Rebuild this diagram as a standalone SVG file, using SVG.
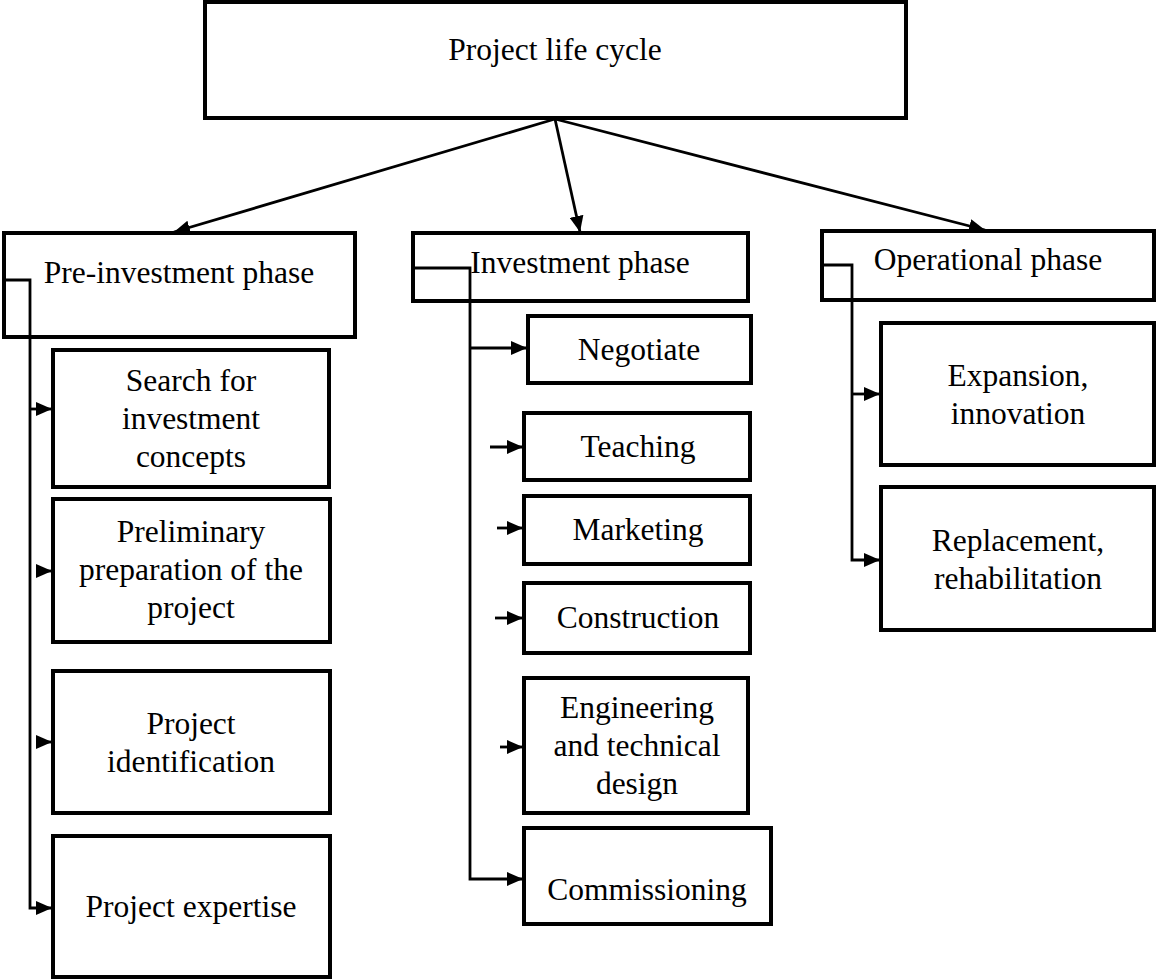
<svg xmlns="http://www.w3.org/2000/svg" width="1156" height="980" viewBox="0 0 1156 980">
  <style>
    .box { fill: #fff; stroke: #000; stroke-width: 4; }
    .lbl { font-family: "Liberation Serif", "Times New Roman", serif; font-size: 31.5px; fill: #000; text-anchor: middle; }
    .conn { fill: none; stroke: #000; stroke-width: 2.8; }
    .arr { marker-end: url(#head); }
  </style>
  <defs>
    <marker id="head" markerUnits="userSpaceOnUse" markerWidth="18" markerHeight="14" refX="16" refY="7" orient="auto">
      <path d="M0,0 L16,7 L0,14 z" fill="#000"/>
    </marker>
  </defs>

  <rect width="1156" height="980" fill="#fff"/>

  <!-- root -->
  <g id="life-cycle">
    <rect class="box" x="205" y="2" width="701" height="116"/>
    <text class="lbl" x="555" y="60">Project life cycle</text>
  </g>

  <!-- phases -->
  <g id="pre-investment">
    <rect class="box" x="4" y="233" width="351" height="104"/>
    <text class="lbl" x="179" y="283">Pre-investment phase</text>
  </g>
  <g id="investment">
    <rect class="box" x="413" y="233" width="335" height="68"/>
    <text class="lbl" x="580" y="273">Investment phase</text>
  </g>
  <g id="operational">
    <rect class="box" x="822" y="231" width="332" height="69"/>
    <text class="lbl" x="988" y="270">Operational phase</text>
  </g>

  <!-- pre-investment steps -->
  <g id="search">
    <rect class="box" x="53" y="350" width="276" height="137"/>
    <text class="lbl" x="191" y="391">Search for</text>
    <text class="lbl" x="191" y="429">investment</text>
    <text class="lbl" x="191" y="467">concepts</text>
  </g>
  <g id="preliminary">
    <rect class="box" x="53" y="499" width="277" height="143"/>
    <text class="lbl" x="191" y="542">Preliminary</text>
    <text class="lbl" x="191" y="580">preparation of the</text>
    <text class="lbl" x="191" y="618">project</text>
  </g>
  <g id="identification">
    <rect class="box" x="53" y="671" width="277" height="142"/>
    <text class="lbl" x="191" y="734">Project</text>
    <text class="lbl" x="191" y="772">identification</text>
  </g>
  <g id="expertise">
    <rect class="box" x="53" y="836" width="277" height="141"/>
    <text class="lbl" x="191" y="917">Project expertise</text>
  </g>

  <!-- investment steps -->
  <g id="negotiate">
    <rect class="box" x="528" y="316" width="223" height="67"/>
    <text class="lbl" x="639" y="360">Negotiate</text>
  </g>
  <g id="teaching">
    <rect class="box" x="524" y="413" width="226" height="67"/>
    <text class="lbl" x="638" y="457">Teaching</text>
  </g>
  <g id="marketing">
    <rect class="box" x="524" y="496" width="226" height="68"/>
    <text class="lbl" x="638" y="540">Marketing</text>
  </g>
  <g id="construction">
    <rect class="box" x="524" y="583" width="226" height="70"/>
    <text class="lbl" x="638" y="628">Construction</text>
  </g>
  <g id="engineering">
    <rect class="box" x="524" y="678" width="224" height="135"/>
    <text class="lbl" x="637" y="718">Engineering</text>
    <text class="lbl" x="637" y="756">and technical</text>
    <text class="lbl" x="637" y="794">design</text>
  </g>
  <g id="commissioning">
    <rect class="box" x="524" y="828" width="247" height="96"/>
    <text class="lbl" x="647" y="900">Commissioning</text>
  </g>

  <!-- operational steps -->
  <g id="expansion">
    <rect class="box" x="881" y="323" width="273" height="142"/>
    <text class="lbl" x="1018" y="386">Expansion,</text>
    <text class="lbl" x="1018" y="424">innovation</text>
  </g>
  <g id="replacement">
    <rect class="box" x="881" y="487" width="273" height="143"/>
    <text class="lbl" x="1018" y="551">Replacement,</text>
    <text class="lbl" x="1018" y="589">rehabilitation</text>
  </g>

  <!-- connectors -->
  <g id="connectors">
    <!-- root to phases -->
    <line class="conn arr" x1="555" y1="119" x2="174" y2="232"/>
    <line class="conn arr" x1="555" y1="119" x2="580" y2="232"/>
    <line class="conn arr" x1="555" y1="119" x2="985" y2="230"/>

    <!-- pre-investment spine -->
    <path class="conn arr" d="M5,280 H30 V908 H52"/>
    <line class="conn arr" x1="30" y1="409" x2="52" y2="409"/>
    <line class="conn arr" x1="36" y1="571" x2="52" y2="571"/>
    <line class="conn arr" x1="40" y1="742" x2="52" y2="742"/>

    <!-- investment spine -->
    <path class="conn arr" d="M415,268 H470 V879 H523"/>
    <line class="conn arr" x1="470" y1="348" x2="527" y2="348"/>
    <line class="conn arr" x1="490" y1="447" x2="523" y2="447"/>
    <line class="conn arr" x1="497" y1="528" x2="523" y2="528"/>
    <line class="conn arr" x1="495" y1="618" x2="523" y2="618"/>
    <line class="conn arr" x1="500" y1="747" x2="523" y2="747"/>

    <!-- operational spine -->
    <path class="conn arr" d="M824,265 H852 V560 H880"/>
    <line class="conn arr" x1="852" y1="394" x2="880" y2="394"/>
  </g>
</svg>
